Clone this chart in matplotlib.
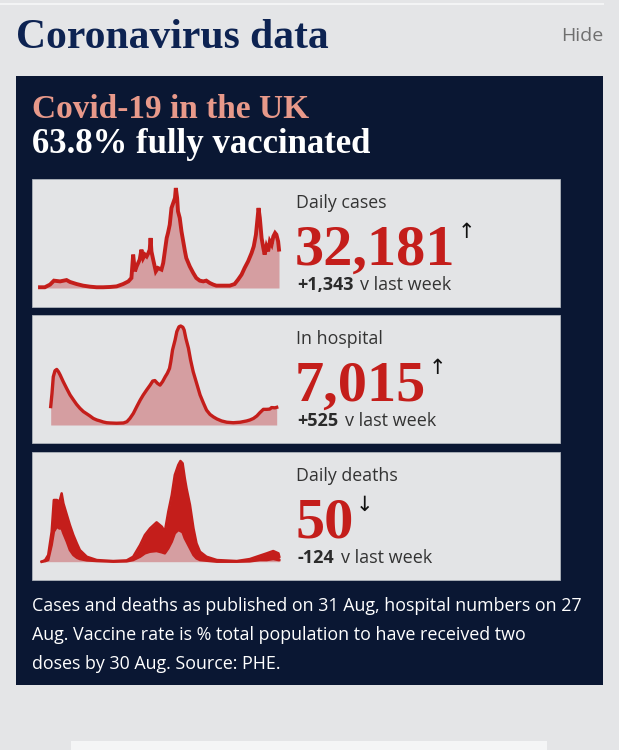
import matplotlib
matplotlib.use("Agg")
import matplotlib.pyplot as plt
from matplotlib.patches import Rectangle

# daily cases, thousands (day 0 = 1 Mar 2020)
cases_day = [0, 11, 23, 32, 46, 61, 69, 84, 99, 115, 130, 145, 161, 176, 191, 203, 210, 214, 218, 222,
             229, 233, 237, 241, 245, 249, 252, 254, 256, 260, 266, 271, 279, 283, 291, 294, 298, 302, 306, 310,
             312, 315, 317, 321, 325, 329, 333, 336, 344, 352, 359, 367, 375, 382, 390, 398, 405, 420, 436, 447,
             455, 463, 470, 478, 486, 491, 496, 499, 502, 505, 509, 513, 516, 520, 524, 528, 532, 536, 540, 543,
             547, 549]
cases_k = [0.5, 0.5, 2.3, 5.0, 4.5, 5.4, 4.1, 2.7, 1.6, 0.9, 0.5, 0.5, 0.7, 1.1, 2.7, 4.5, 6.8, 22.7, 11.3, 14.7,
           19.3, 26.1, 20.4, 22.7, 21.5, 23.8, 26.1, 34.0, 24.9, 19.3, 11.3, 13.6, 12.5, 17.0, 34.0, 37.4, 43.0, 54.4, 57.8, 61.2,
           68.0, 61.2, 52.1, 47.6, 38.5, 31.7, 24.9, 20.4, 14.7, 10.2, 6.8, 5.0, 4.5, 5.0, 3.4, 2.3, 1.6, 1.6, 1.6, 2.7,
           5.7, 9.1, 13.6, 18.1, 23.8, 28.3, 36.3, 45.3, 54.4, 47.6, 34.0, 27.2, 22.7, 28.3, 24.9, 31.7, 29.5, 35.1, 37.4, 36.3,
           31.7, 26.1]

# patients in hospital, thousands (day 0 = 20 Mar 2020)
hosp_day = [0, 3, 6, 10, 14, 18, 22, 29, 37, 45, 53, 60, 68, 76, 84, 91, 99, 107, 115, 122,
            130, 138, 153, 169, 177, 184, 192, 200, 208, 215, 223, 231, 237, 242, 248, 254, 260, 266, 271, 276,
            279, 283, 289, 293, 298, 302, 307, 310, 314, 320, 325, 331, 339, 347, 355, 362, 370, 378, 386, 397,
            409, 424, 440, 455, 463, 471, 479, 486, 494, 502, 509, 513, 521, 525]
hosp_k = [7.3, 12.5, 19.1, 21.5, 22.0, 21.1, 19.8, 17.2, 14.5, 11.9, 9.9, 8.2, 6.6, 5.3, 4.4, 3.6, 2.6, 2.0, 1.6, 1.2,
          0.9, 0.8, 0.7, 0.8, 1.3, 2.6, 4.6, 7.3, 9.9, 11.9, 13.9, 15.8, 17.4, 17.6, 16.5, 15.8, 17.2, 19.1, 20.5, 22.4,
          25.1, 29.7, 33.7, 37.0, 38.9, 39.2, 38.7, 37.6, 34.3, 30.4, 25.7, 21.1, 16.5, 11.9, 8.6, 5.9, 4.2, 3.2, 2.4, 1.6,
          1.1, 0.9, 1.1, 1.6, 2.0, 2.6, 3.6, 4.9, 6.2, 6.2, 6.3, 6.9, 6.8, 7.0]

# daily deaths: weekday highs and weekend lows (day 0 = 1 Mar 2020)
death_day = [0, 8, 15, 23, 28, 35, 41, 46, 50, 58, 65, 73, 81, 88, 104, 127, 165, 196, 211, 227,
             238, 250, 265, 277, 284, 292, 300, 307, 315, 320, 325, 330, 334, 342, 350, 357, 365, 380, 404, 450,
             480, 503, 519, 534, 546, 548]
death_hi = [0, 30, 120, 543, 1116, 1116, 1085, 1236, 1055, 845, 663, 482, 332, 211, 90, 30, 12, 24, 90, 302,
            482, 603, 712, 633, 543, 905, 1206, 1568, 1749, 1821, 1779, 1508, 1327, 1025, 603, 332, 181, 90, 30, 12,
            48, 109, 151, 193, 151, 90]
death_lo = [0, 10, 30, 302, 543, 633, 600, 603, 513, 362, 211, 121, 72, 48, 24, 12, 0, 6, 30, 90,
            151, 181, 193, 169, 151, 241, 362, 513, 573, 555, 531, 422, 362, 241, 121, 60, 30, 18, 0, 0,
            6, 30, 30, 48, 30, 30]

labels = ["Daily cases", "In hospital", "Daily deaths"]
headline = ["32,181", "7,015", "50"]
change = ["+1,343", "+525", "-124"]
arrows = ["↑", "↑", "↓"]

W, H = 619, 750
BG = "#e4e5e7"
NAVY = "#0a1733"
RED = "#c41e1b"
PINK = "#d59ea1"
SERIF = "Liberation Serif"
SANS = "Open Sans"

fig = plt.figure(figsize=(W / 100, H / 100), dpi=100, facecolor=BG)
bg = fig.add_axes([0, 0, 1, 1])
bg.set_xlim(0, W)
bg.set_ylim(H, 0)
bg.axis("off")


def px_axes(left, top, right, bottom):
    a = fig.add_axes([left / W, 1 - bottom / H, (right - left) / W, (bottom - top) / H])
    a.axis("off")
    return a


bg.plot([0, 603], [4, 4], color="#f3f4f5", lw=1.5)
bg.text(16, 48, "Coronavirus data", fontsize=30, fontweight="bold", family=SERIF,
        color="#0d2352", va="baseline")
bg.text(603, 41, "Hide", fontsize=14, family=SANS, color="#6f6f6f", ha="right", va="baseline")

bg.add_patch(Rectangle((16, 76), 587, 609, color=NAVY, lw=0))
bg.text(32, 118, "Covid-19 in the UK", fontsize=24, fontweight="bold", family=SERIF,
        color="#e8998a", va="baseline")
bg.text(32, 153, "63.8% fully vaccinated", fontsize=25, fontweight="bold", family=SERIF,
        color="white", va="baseline")

panel_top = [179, 315, 452]
for i, top in enumerate(panel_top):
    bg.add_patch(Rectangle((32, top), 528, 128, facecolor="#e3e4e6", edgecolor="#aeb3bb", lw=0.6))
    bg.text(296, top + 29, labels[i], fontsize=12.8, family=SANS, color="#333333", va="baseline")
    num = bg.text(295, top + 86, headline[i], fontsize=42, fontweight="bold", family=SERIF,
                  color=RED, va="baseline")
    bg.annotate(arrows[i], xy=(1, 1), xycoords=num, xytext=(2, 3), textcoords="offset pixels",
                fontsize=15, family="DejaVu Sans", color="#111111", va="top")
    chg = bg.text(297, top + 111, change[i], fontsize=13, fontweight="bold", family=SANS,
                  color="#2b2b2b", va="baseline")
    bg.annotate("v last week", xy=(1, 0), xycoords=chg, xytext=(7, 0), textcoords="offset pixels",
                fontsize=13, family=SANS, color="#333333", va="bottom")

notes = ["Cases and deaths as published on 31 Aug, hospital numbers on 27",
         "Aug. Vaccine rate is % total population to have received two",
         "doses by 30 Aug. Source: PHE."]
for j, line in enumerate(notes):
    bg.text(32, 611 + 29 * j, line, fontsize=12.85, family=SANS, color="white", va="baseline")

bg.add_patch(Rectangle((71, 741), 476, 12, color="#f4f5f6", lw=0))

# cases chart
ax1 = px_axes(40, 188, 279, 288)
ax1.fill_between(cases_day, cases_k, color=PINK, lw=0)
ax1.plot(cases_day, cases_k, color=RED, lw=2.8, solid_joinstyle="miter", clip_on=False)
ax1.set_xlim(min(cases_day), max(cases_day))
ax1.set_ylim(0, max(cases_k))

# hospital chart
ax2 = px_axes(50.7, 326, 276.7, 425)
ax2.fill_between(hosp_day, hosp_k, color=PINK, lw=0)
ax2.plot(hosp_day, hosp_k, color=RED, lw=2.4, solid_joinstyle="round", clip_on=False)
ax2.set_xlim(min(hosp_day), max(hosp_day))
ax2.set_ylim(0, max(hosp_k))

# deaths chart
ax3 = px_axes(41.7, 461, 279.3, 561.7)
ax3.fill_between(death_day, death_lo, color=PINK, lw=0)
ax3.fill_between(death_day, death_lo, death_hi, color=RED, lw=0)
ax3.plot(death_day, death_hi, color=RED, lw=1.8, clip_on=False)
ax3.plot(death_day, death_lo, color=RED, lw=1.8, clip_on=False)
ax3.set_xlim(min(death_day), max(death_day))
ax3.set_ylim(0, max(death_hi))

fig.savefig("out.png", dpi=100, facecolor=BG)
